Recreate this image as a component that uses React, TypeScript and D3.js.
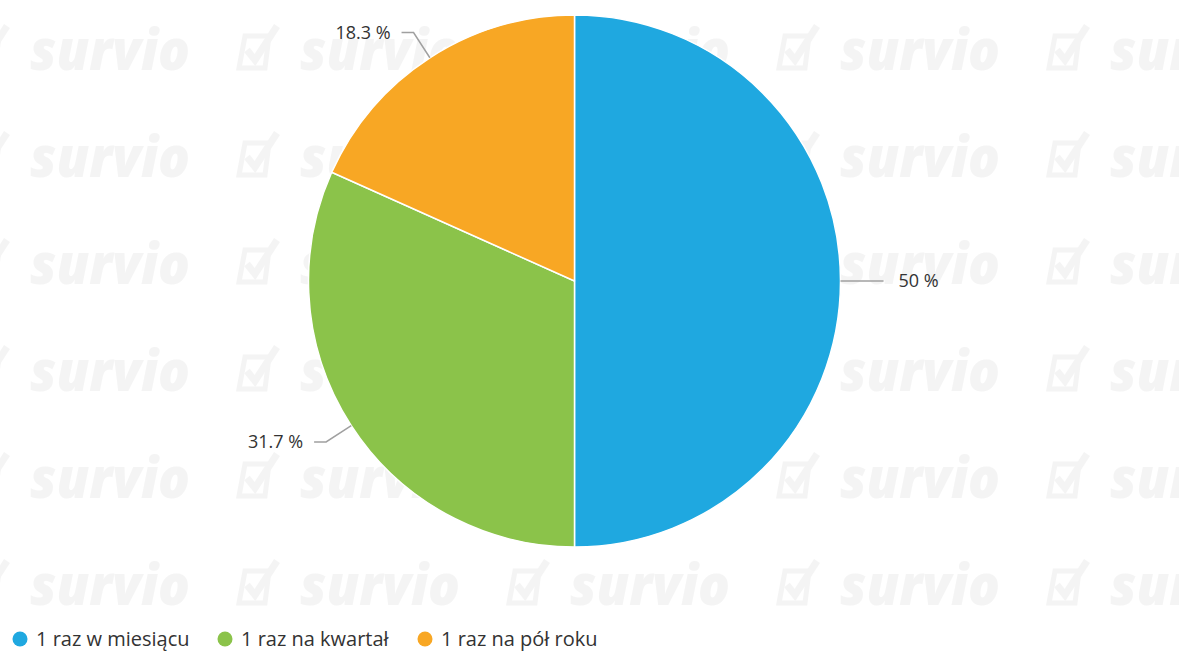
import React from "react";
import * as d3 from "d3";

const categories = ["1 raz w miesiącu", "1 raz na kwartał", "1 raz na pół roku"];
const values = [50, 31.7, 18.3];
const labels = ["50 %", "31.7 %", "18.3 %"];
const colors = ["#1fa8e0", "#8bc34a", "#f8a724"];

const W = 1179;
const H = 654;
const cx = 574.5;
const cy = 281;
const R = 266;

const wmCols = [-27, 243, 513, 783, 1053];
const wmRows = [70, 177, 284, 391, 498, 605];

export default function App() {
  const pie = d3.pie<number>().sort(null).startAngle(0).endAngle(2 * Math.PI);
  const arcs = pie(values);
  const arcGen = d3.arc<d3.PieArcDatum<number>>().innerRadius(0).outerRadius(R);
  const polar = (a: number, r: number): [number, number] => [cx + Math.sin(a) * r, cy - Math.cos(a) * r];

  const legendX = [20, 225, 425];

  return (
    <svg width={W} height={H} style={{ position: "absolute", left: 0, top: 0, background: "#fff" }}>
      <g>
        {wmRows.map((y, ri) =>
          wmCols.map((x, ci) => (
            <g key={`${ri}-${ci}`} opacity={0.45}>
              <path
                d={`M${x + 2},${y - 34} L${x + 26},${y - 34} L${x + 22},${y - 2} L${x - 4},${y - 2} Z`}
                fill="none"
                stroke="#e8e8e8"
                strokeWidth={5}
              />
              <path
                d={`M${x + 4},${y - 20} L${x + 12},${y - 10} L${x + 34},${y - 44}`}
                fill="none"
                stroke="#e8e8e8"
                strokeWidth={7}
              />
              <text
                x={x + 57}
                y={y}
                fontFamily="'Open Sans', sans-serif"
                fontWeight={800}
                fontStyle="italic"
                fontSize={56}
                fill="#e8e8e8"
                textLength={160}
                lengthAdjust="spacingAndGlyphs"
              >
                survio
              </text>
            </g>
          ))
        )}
      </g>
      <g transform={`translate(${cx},${cy})`}>
        {arcs.map((a, i) => (
          <path key={i} d={arcGen(a) || ""} fill={colors[i]} stroke="#ffffff" strokeWidth={1.5} strokeLinejoin="round" />
        ))}
      </g>
      <g fontFamily="'Open Sans', sans-serif" fontSize={18} fill="#333">
        {arcs.map((a, i) => {
          const mid = (a.startAngle + a.endAngle) / 2;
          const p0 = polar(mid, R);
          const p1 = polar(mid, R + 30);
          const right = Math.sin(mid) >= 0;
          const p2x = p1[0] + (right ? 13 : -12);
          const tx = p2x + (right ? 15 : -11);
          return (
            <g key={i}>
              <path
                d={`M${p0[0]},${p0[1]} L${p1[0]},${p1[1]} L${p2x},${p1[1]}`}
                fill="none"
                stroke="#a0a0a0"
                strokeWidth={1.5}
              />
              <text x={tx} y={p1[1]} dy="0.35em" textAnchor={right ? "start" : "end"} fill="#333">
                {labels[i]}
              </text>
            </g>
          );
        })}
      </g>
      <g fontFamily="'Open Sans', sans-serif" fontSize={20} fill="#333">
        {categories.map((c, i) => (
          <g key={i}>
            <circle cx={legendX[i]} cy={639} r={7.5} fill={colors[i]} />
            <text x={legendX[i] + 16} y={639} dy="0.35em">
              {c}
            </text>
          </g>
        ))}
      </g>
    </svg>
  );
}
